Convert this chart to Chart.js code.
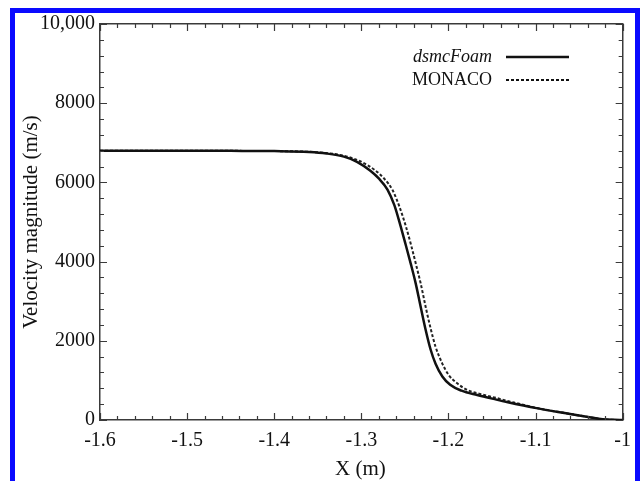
<!DOCTYPE html>
<html>
<head>
<meta charset="utf-8">
<title>Velocity magnitude</title>
<script src="https://cdn.jsdelivr.net/npm/chart.js@4.4.1/dist/chart.umd.min.js"></script>
<style>
  html, body { margin: 0; padding: 0; background: #fff; }
  #frame {
    position: absolute; left: 10px; top: 8px; width: 620px; height: 473px;
    border: 5px solid #0a0aff; border-bottom: none;
  }
  #chart { position: absolute; left: 0; top: 0; z-index: 2; }
</style>
</head>
<body>
<div id="frame"></div>
<canvas id="chart" width="640" height="481"></canvas>
<script>
  // values
  var dsmcX = [-1.6, -1.5, -1.45, -1.4, -1.36, -1.34, -1.32, -1.305, -1.29, -1.28, -1.27, -1.262, -1.255,
    -1.249, -1.2433, -1.2376, -1.2319, -1.2262, -1.2205, -1.2148, -1.207, -1.198, -1.185, -1.167,
    -1.145, -1.133, -1.099, -1.065, -1.038, -1.023, -1.01, -1.0];
  var dsmcY = [6800, 6800, 6797, 6790, 6768, 6730, 6650, 6520, 6300, 6100, 5820, 5420, 4900,
    4420, 3950, 3450, 2860, 2280, 1780, 1420, 1100, 890, 740, 630,
    515, 455, 300, 170, 70, 20, 4, 0];

  var monacoX = [-1.6, -1.5, -1.45, -1.4, -1.36, -1.34, -1.32, -1.302, -1.285, -1.274, -1.264, -1.2565,
    -1.249, -1.2433, -1.2376, -1.2319, -1.2262, -1.2205, -1.2148, -1.2072, -1.1997, -1.19, -1.179,
    -1.164, -1.145, -1.13, -1.099, -1.065, -1.038, -1.023, -1.01, -1.0];
  var monacoY = [6800, 6800, 6797, 6791, 6772, 6740, 6672, 6540, 6320, 6100, 5800, 5400,
    4900, 4450, 3960, 3451, 2862, 2315, 1852, 1431, 1136, 926, 765,
    660, 556, 470, 305, 172, 70, 20, 4, 0];

  var xMin = -1.6, xMax = -1.0, xMajor = 0.1, xMinor = 0.02;
  var yMin = 0, yMax = 10000, yMajor = 2000, yMinor = 400;
  var yTickLabels = { 0: '0', 2000: '2000', 4000: '4000', 6000: '6000', 8000: '8000', 10000: '10,000' };
  var legendNames = ['dsmcFoam', 'MONACO'];

  function pts(xs, ys) {
    return xs.map(function (x, i) { return { x: x, y: ys[i] }; });
  }

  var serif = '"Liberation Serif", "DejaVu Serif", serif';
  var axisColor = '#3a3a3a';

  // inward ticks on all four sides, plus axis titles and legend
  var framePlugin = {
    id: 'frame',
    afterDraw: function (chart) {
      var ctx = chart.ctx, a = chart.chartArea;
      var xs = chart.scales.x, ys = chart.scales.y;
      ctx.save();
      ctx.strokeStyle = axisColor;
      ctx.lineWidth = 1.2;
      ctx.beginPath();
      var i, v, p, len;
      var nx = Math.round((xMax - xMin) / xMinor);
      for (i = 0; i <= nx; i++) {
        v = xMin + i * xMinor;
        p = Math.round(xs.getPixelForValue(v)) + 0.5;
        len = (i % 5 === 0) ? 7 : 4;
        ctx.moveTo(p, a.bottom); ctx.lineTo(p, a.bottom - len);
        ctx.moveTo(p, a.top); ctx.lineTo(p, a.top + len);
      }
      var ny = Math.round((yMax - yMin) / yMinor);
      for (i = 0; i <= ny; i++) {
        v = yMin + i * yMinor;
        p = Math.round(ys.getPixelForValue(v)) + 0.5;
        len = (v % yMajor === 0) ? 7 : 4;
        ctx.moveTo(a.left, p); ctx.lineTo(a.left + len, p);
        ctx.moveTo(a.right, p); ctx.lineTo(a.right - len, p);
      }
      ctx.stroke();

      // axis titles
      ctx.fillStyle = '#111';
      ctx.font = '21px ' + serif;
      ctx.textAlign = 'center';
      ctx.textBaseline = 'middle';
      ctx.fillText('X (m)', (a.left + a.right) / 2 - 1, 469);
      ctx.save();
      ctx.translate(31, (a.top + a.bottom) / 2);
      ctx.rotate(-Math.PI / 2);
      ctx.fillText('Velocity magnitude (m/s)', 0, 0);
      ctx.restore();

      // legend
      ctx.textAlign = 'right';
      ctx.font = 'italic 18px ' + serif;
      ctx.fillText(legendNames[0], 492, 57);
      ctx.font = '18px ' + serif;
      ctx.fillText(legendNames[1], 492, 80);
      ctx.strokeStyle = '#111';
      ctx.lineWidth = 2.5;
      ctx.beginPath(); ctx.moveTo(506, 57); ctx.lineTo(569, 57); ctx.stroke();
      ctx.lineWidth = 2;
      ctx.setLineDash([3, 2]);
      ctx.beginPath(); ctx.moveTo(506, 80); ctx.lineTo(569, 80); ctx.stroke();
      ctx.restore();
    }
  };

  function edgeAxis(pos, min, max, fit) {
    return {
      type: 'linear', position: pos, min: min, max: max,
      grid: { display: false, drawTicks: false },
      border: { display: true, color: axisColor, width: 1.5 },
      ticks: { display: false },
      afterFit: fit
    };
  }

  new Chart(document.getElementById('chart'), {
    type: 'line',
    data: {
      datasets: [
        {
          label: legendNames[0], data: pts(dsmcX, dsmcY),
          borderColor: '#111', borderWidth: 2.5, pointRadius: 0,
          cubicInterpolationMode: 'monotone', fill: false
        },
        {
          label: legendNames[1], data: pts(monacoX, monacoY),
          borderColor: '#222', borderWidth: 2, borderDash: [3, 2], pointRadius: 0,
          cubicInterpolationMode: 'monotone', fill: false
        }
      ]
    },
    options: {
      responsive: false,
      animation: false,
      layout: { padding: 0 },
      plugins: { legend: { display: false }, tooltip: { enabled: false } },
      scales: {
        x: {
          type: 'linear', position: 'bottom', min: xMin, max: xMax,
          grid: { display: false, drawTicks: false },
          border: { display: true, color: axisColor, width: 1.5 },
          ticks: {
            stepSize: xMajor, padding: 9, color: '#111',
            font: { family: serif, size: 20 }, maxRotation: 0,
            callback: function (v) { var r = Math.round(v * 10) / 10; return r === -1 ? '-1' : r.toFixed(1); }
          },
          afterFit: function (s) { s.height = 61; }
        },
        y: {
          type: 'linear', position: 'left', min: yMin, max: yMax,
          grid: { display: false, drawTicks: false },
          border: { display: true, color: axisColor, width: 1.5 },
          ticks: {
            stepSize: yMajor, padding: 5, color: '#111',
            font: { family: serif, size: 20 },
            callback: function (v) { return yTickLabels[v] !== undefined ? yTickLabels[v] : ''; }
          },
          afterFit: function (s) { s.width = 100; }
        },
        x2: edgeAxis('top', xMin, xMax, function (s) { s.height = 24; }),
        y2: edgeAxis('right', yMin, yMax, function (s) { s.width = 12; })
      }
    },
    plugins: [framePlugin]
  });
</script>
</body>
</html>
